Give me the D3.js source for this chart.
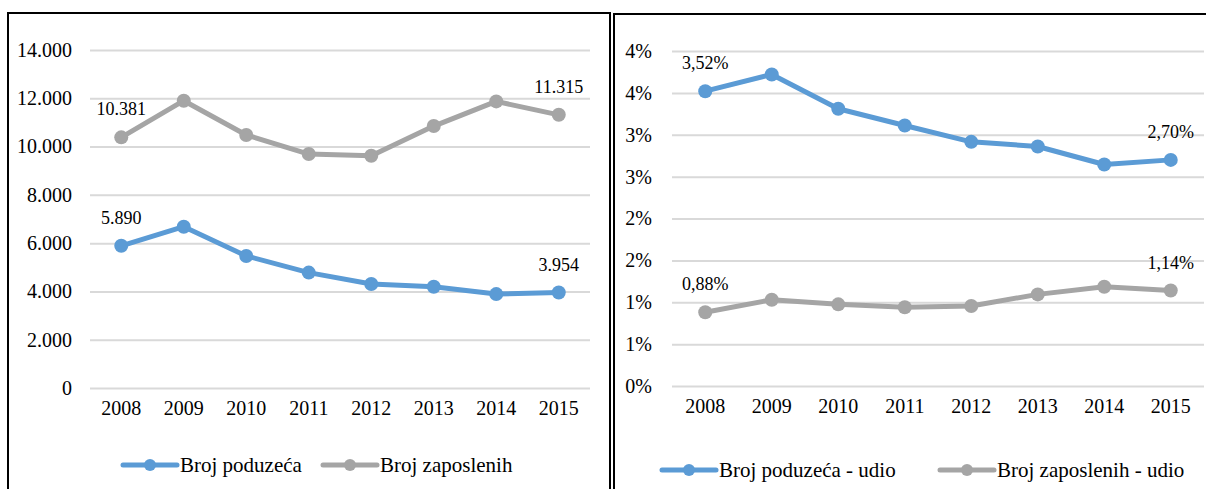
<!DOCTYPE html>
<html>
<head>
<meta charset="utf-8">
<script src="https://cdn.jsdelivr.net/npm/d3@7"></script>
<style>
  body { margin: 0; background: #fff; }
</style>
</head>
<body>
<svg id="drawing_region"></svg>
<script>
// --- data ---
const years = ["2008", "2009", "2010", "2011", "2012", "2013", "2014", "2015"];

const brojPoduzeca = [5890, 6680, 5470, 4780, 4310, 4195, 3890, 3954];
const brojZaposlenih = [10381, 11900, 10480, 9690, 9620, 10850, 11870, 11315];
const leftTicks = [0, 2000, 4000, 6000, 8000, 10000, 12000, 14000];
const leftTickLabels = ["0", "2.000", "4.000", "6.000", "8.000", "10.000", "12.000", "14.000"];

const poduzecaUdio = [3.52, 3.72, 3.31, 3.11, 2.915, 2.86, 2.645, 2.70];
const zaposleniUdio = [0.88, 1.03, 0.975, 0.94, 0.955, 1.094, 1.185, 1.14];
const rightTicks = [0, 0.5, 1, 1.5, 2, 2.5, 3, 3.5, 4];
const rightTickLabels = ["0%", "1%", "1%", "2%", "2%", "3%", "3%", "4%", "4%"];

const blue = "#5B9BD5";
const gray = "#A5A5A5";
const FONT = "Liberation Serif";

const svg = d3.select("#drawing_region")
    .attr("width", 1206)
    .attr("height", 489)
    .style("font-family", FONT);

// panel frames
svg.append("rect")
    .attr("x", 8).attr("y", 13)
    .attr("width", 602).attr("height", 500)
    .attr("fill", "none").attr("stroke", "#000").attr("stroke-width", 2);

svg.append("rect")
    .attr("x", 614).attr("y", 14)
    .attr("width", 620).attr("height", 500)
    .attr("fill", "none").attr("stroke", "#000").attr("stroke-width", 2);

function drawPanel(cfg) {
    const xscale = d3.scaleBand()
        .domain(years)
        .range([cfg.x0, cfg.x1]);

    const yscale = d3.scaleLinear()
        .domain(cfg.ydomain)
        .range([cfg.ybottom, cfg.ytop]);

    const g = svg.append("g");

    // gridlines + y labels
    const yaxis = d3.axisLeft(yscale)
        .tickValues(cfg.ticks)
        .tickSize(-(cfg.x1 - cfg.x0))
        .tickPadding(cfg.tickPad)
        .tickFormat((d, i) => cfg.tickLabels[i]);

    g.append("g")
        .attr("transform", `translate(${cfg.x0},0)`)
        .call(yaxis)
        .attr("font-family", null)
        .attr("font-size", null)
        .call(a => a.select(".domain").remove())
        .call(a => a.selectAll(".tick line").attr("stroke", "#D9D9D9").attr("stroke-width", 2))
        .call(a => a.selectAll(".tick text")
            .style("font-family", FONT)
            .style("font-size", "20px")
            .attr("fill", "#000"));

    // x labels
    const xaxis = d3.axisBottom(xscale).tickSize(0).tickPadding(0);
    g.append("g")
        .attr("transform", `translate(0,${cfg.ybottom + 13})`)
        .call(xaxis)
        .attr("font-family", null)
        .attr("font-size", null)
        .call(a => a.select(".domain").remove())
        .call(a => a.selectAll(".tick text")
            .style("font-family", FONT)
            .style("font-size", "20px")
            .attr("fill", "#000"));

    const line = d3.line()
        .x((d, i) => xscale(years[i]) + xscale.bandwidth() / 2)
        .y(d => yscale(d));

    cfg.series.forEach(s => {
        g.append("path")
            .attr("d", line(s.values))
            .attr("fill", "none")
            .attr("stroke", s.color)
            .attr("stroke-width", 5)
            .attr("stroke-linejoin", "round");

        g.selectAll(null)
            .data(s.values)
            .enter()
            .append("circle")
            .attr("cx", (d, i) => xscale(years[i]) + xscale.bandwidth() / 2)
            .attr("cy", d => yscale(d))
            .attr("r", 7)
            .attr("fill", s.color);

        // first and last value labels
        [0, s.values.length - 1].forEach(i => {
            g.append("text")
                .attr("x", xscale(years[i]) + xscale.bandwidth() / 2)
                .attr("y", yscale(s.values[i]) - 22)
                .attr("text-anchor", "middle")
                .style("font-family", FONT)
                .style("font-size", "18px")
                .attr("fill", "#000")
                .text(s.format(s.values[i], i));
        });
    });

    // legend
    cfg.legend.forEach(l => {
        g.append("line")
            .attr("x1", l.x).attr("x2", l.x + 54)
            .attr("y1", cfg.legendY).attr("y2", cfg.legendY)
            .attr("stroke", l.color).attr("stroke-width", 5)
            .attr("stroke-linecap", "round");
        g.append("circle")
            .attr("cx", l.x + 27).attr("cy", cfg.legendY)
            .attr("r", 6).attr("fill", l.color);
        g.append("text")
            .attr("x", l.x + 57).attr("y", cfg.legendY + 7)
            .style("font-family", FONT)
            .style("font-size", "21px")
            .attr("fill", "#000")
            .text(l.label);
    });
}

drawPanel({
    x0: 90, x1: 590,
    ybottom: 388, ytop: 50,
    ydomain: [0, 14000],
    ticks: leftTicks,
    tickLabels: leftTickLabels,
    tickPad: 18,
    series: [
        { values: brojZaposlenih, color: gray,
          format: (v, i) => i === 0 ? "10.381" : "11.315" },
        { values: brojPoduzeca, color: blue,
          format: (v, i) => i === 0 ? "5.890" : "3.954" }
    ],
    legendY: 465,
    legend: [
        { x: 123, color: blue, label: "Broj poduzeća" },
        { x: 323, color: gray, label: "Broj zaposlenih" }
    ]
});

drawPanel({
    x0: 672, x1: 1204,
    ybottom: 386, ytop: 51,
    ydomain: [0, 4],
    ticks: rightTicks,
    tickLabels: rightTickLabels,
    tickPad: 20,
    series: [
        { values: poduzecaUdio, color: blue,
          format: v => v.toFixed(2).replace(".", ",") + "%" },
        { values: zaposleniUdio, color: gray,
          format: v => v.toFixed(2).replace(".", ",") + "%" }
    ],
    legendY: 470,
    legend: [
        { x: 662, color: blue, label: "Broj poduzeća - udio" },
        { x: 940, color: gray, label: "Broj zaposlenih - udio" }
    ]
});
</script>
</body>
</html>
